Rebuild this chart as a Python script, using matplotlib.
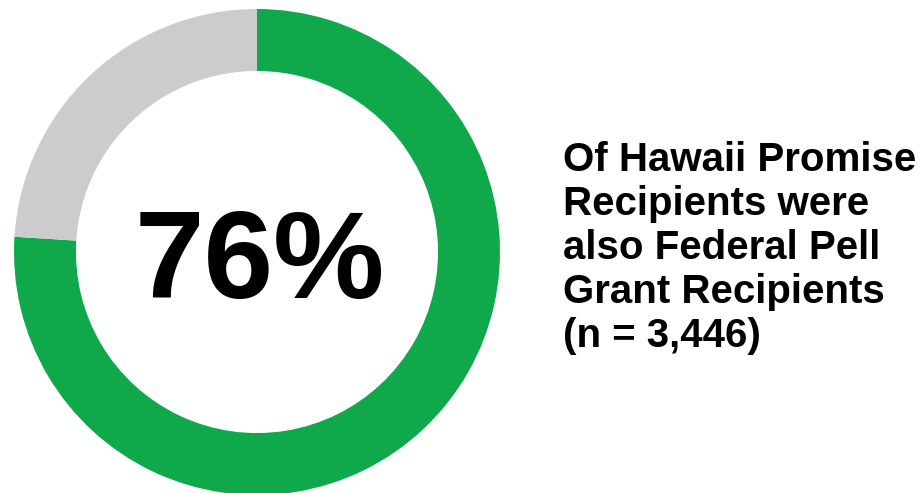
import matplotlib.pyplot as plt

# Share of Hawaii Promise recipients who also got a Pell grant
labels = ['Pell Grant Recipients', 'Other']
shares = [76, 24]
colors = ['#0FA84B', '#CCCCCC']
center_label = '76%'
caption = 'Of Hawaii Promise\nRecipients were\nalso Federal Pell\nGrant Recipients\n(n = 3,446)'

W, H = 922, 493
fig = plt.figure(figsize=(W / 100, H / 100), dpi=100)

# square axes for the donut, placed in pixels
cx, cy, r = 257, 493 - 252, 243
ax = fig.add_axes([(cx - r) / W, (cy - r) / H, 2 * r / W, 2 * r / H])
ax.pie(shares, colors=colors, startangle=90, counterclock=False,
       radius=1, wedgeprops=dict(width=0.255, linewidth=0))
ax.set_xlim(-1, 1)
ax.set_ylim(-1, 1)
ax.set_aspect('equal')
ax.axis('off')

ax.text(0.01, -0.19, center_label, ha='center', va='baseline',
        fontsize=90, fontweight='bold', family='Liberation Sans', color='black')

fig.text(563 / W, 1 - 141 / H, caption, ha='left', va='top',
         fontsize=29, fontweight='bold', family='Liberation Sans',
         color='black', linespacing=1.2)

plt.savefig('out.png', dpi=100)
plt.close()
